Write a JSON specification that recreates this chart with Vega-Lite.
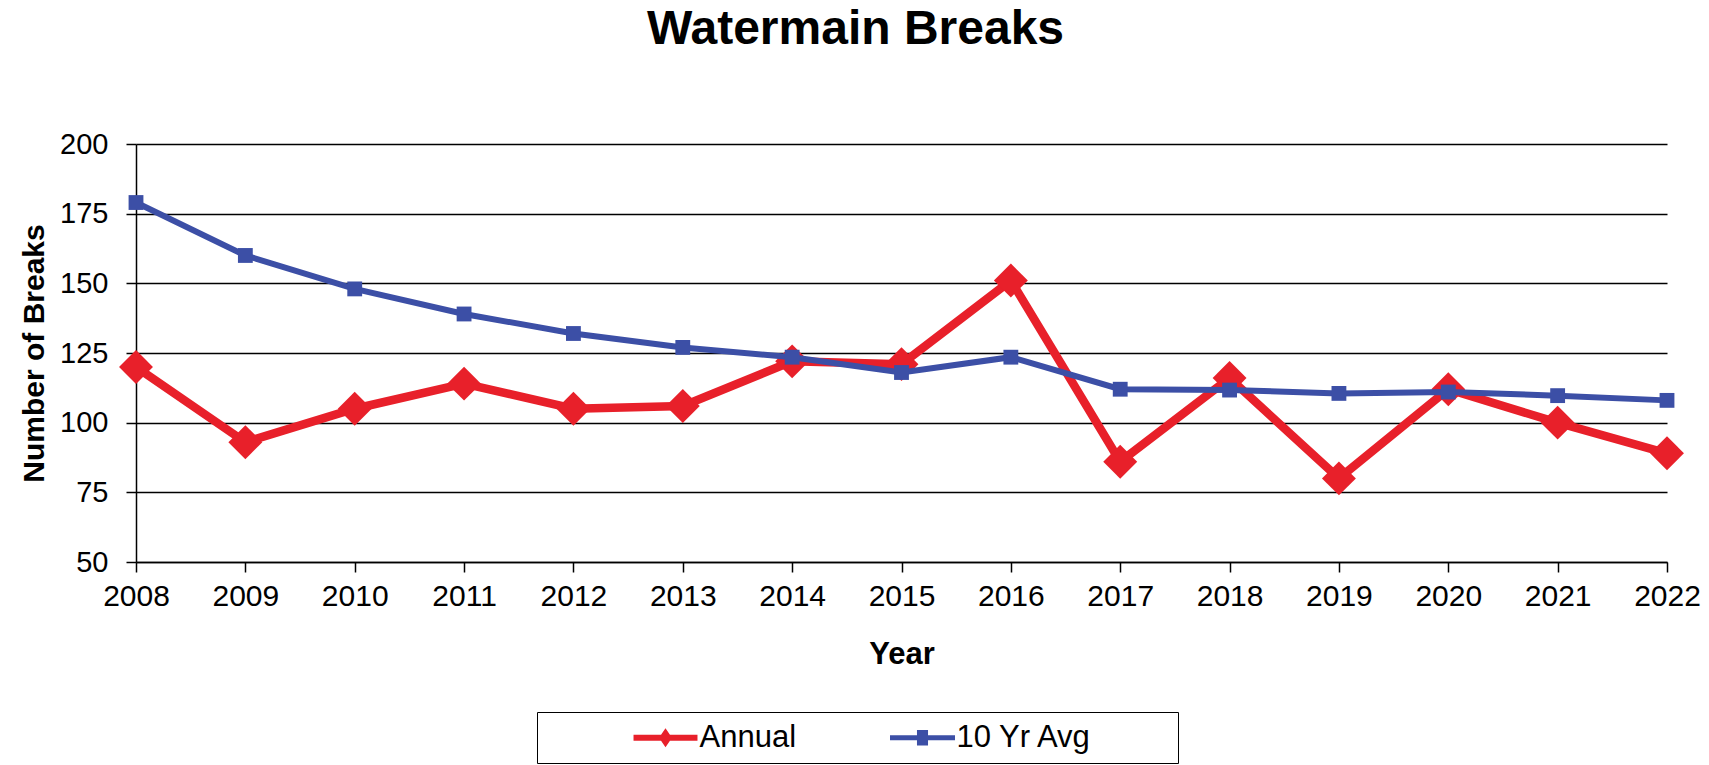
{
  "$schema": "https://vega.github.io/schema/vega-lite/v6.json",
  "width": 1531,
  "height": 418,
  "autosize": {"type": "none"},
  "padding": {"left": 136, "top": 144, "right": 42, "bottom": 203},
  "background": "white",
  "config": {
    "font": "Liberation Sans",
    "view": {"stroke": null}
  },
  "title": {
    "text": "Watermain Breaks",
    "fontSize": 48,
    "fontWeight": "bold",
    "font": "Liberation Sans",
    "color": "black",
    "anchor": "middle",
    "frame": "group",
    "dx": -46,
    "offset": 38,
    "baseline": "alphabetic"
  },
  "data": {
    "values": [
      {"Year": 2008, "Series": "Annual", "Breaks": 120},
      {"Year": 2009, "Series": "Annual", "Breaks": 93},
      {"Year": 2010, "Series": "Annual", "Breaks": 105},
      {"Year": 2011, "Series": "Annual", "Breaks": 114},
      {"Year": 2012, "Series": "Annual", "Breaks": 105},
      {"Year": 2013, "Series": "Annual", "Breaks": 106},
      {"Year": 2014, "Series": "Annual", "Breaks": 122},
      {"Year": 2015, "Series": "Annual", "Breaks": 121},
      {"Year": 2016, "Series": "Annual", "Breaks": 151},
      {"Year": 2017, "Series": "Annual", "Breaks": 86},
      {"Year": 2018, "Series": "Annual", "Breaks": 116},
      {"Year": 2019, "Series": "Annual", "Breaks": 80},
      {"Year": 2020, "Series": "Annual", "Breaks": 112},
      {"Year": 2021, "Series": "Annual", "Breaks": 100},
      {"Year": 2022, "Series": "Annual", "Breaks": 89},
      {"Year": 2008, "Series": "10 Yr Avg", "Breaks": 179},
      {"Year": 2009, "Series": "10 Yr Avg", "Breaks": 160},
      {"Year": 2010, "Series": "10 Yr Avg", "Breaks": 148},
      {"Year": 2011, "Series": "10 Yr Avg", "Breaks": 139},
      {"Year": 2012, "Series": "10 Yr Avg", "Breaks": 132},
      {"Year": 2013, "Series": "10 Yr Avg", "Breaks": 127},
      {"Year": 2014, "Series": "10 Yr Avg", "Breaks": 123.5},
      {"Year": 2015, "Series": "10 Yr Avg", "Breaks": 118},
      {"Year": 2016, "Series": "10 Yr Avg", "Breaks": 123.5},
      {"Year": 2017, "Series": "10 Yr Avg", "Breaks": 112},
      {"Year": 2018, "Series": "10 Yr Avg", "Breaks": 111.7},
      {"Year": 2019, "Series": "10 Yr Avg", "Breaks": 110.5},
      {"Year": 2020, "Series": "10 Yr Avg", "Breaks": 111},
      {"Year": 2021, "Series": "10 Yr Avg", "Breaks": 109.7},
      {"Year": 2022, "Series": "10 Yr Avg", "Breaks": 108}
    ]
  },
  "encoding": {
    "x": {
      "field": "Year",
      "type": "quantitative",
      "scale": {"domain": [2008, 2022], "nice": false, "zero": false},
      "axis": {
        "title": "Year",
        "values": [2008, 2009, 2010, 2011, 2012, 2013, 2014, 2015, 2016, 2017, 2018, 2019, 2020, 2021, 2022],
        "format": "d",
        "grid": false,
        "domainColor": "black",
        "domainWidth": 1.5,
        "tickColor": "black",
        "tickWidth": 1.5,
        "tickSize": 10,
        "labelFontSize": 30,
        "labelColor": "black",
        "labelPadding": 9,
        "labelFlush": false,
        "labelOverlap": false,
        "titleFontSize": 31,
        "titleFontWeight": "bold",
        "titleColor": "black",
        "titlePadding": 28
      }
    },
    "y": {
      "field": "Breaks",
      "type": "quantitative",
      "scale": {"domain": [50, 200], "nice": false, "zero": false},
      "axis": {
        "title": "Number of Breaks",
        "values": [50, 75, 100, 125, 150, 175, 200],
        "grid": true,
        "gridColor": "black",
        "gridWidth": 1.5,
        "gridOpacity": 1,
        "domainColor": "black",
        "domainWidth": 1.5,
        "tickColor": "black",
        "tickWidth": 1.5,
        "tickSize": 10,
        "labelFontSize": 29,
        "labelColor": "black",
        "labelPadding": 18,
        "labelFlush": false,
        "labelOverlap": false,
        "titleFontSize": 30,
        "titleFontWeight": "bold",
        "titleColor": "black",
        "titlePadding": 10
      }
    },
    "color": {
      "field": "Series",
      "type": "nominal",
      "scale": {"domain": ["Annual", "10 Yr Avg"], "range": ["#E8202A", "#3C4FA6"]},
      "legend": {
        "title": null,
        "orient": "none",
        "legendX": 401,
        "legendY": 568,
        "direction": "horizontal",
        "strokeColor": "black",
        "fillColor": "white",
        "padding": 10,
        "labelFontSize": 31,
        "labelColor": "black",
        "labelFont": "Liberation Sans",
        "symbolSize": 169,
        "symbolStrokeWidth": 0,
        "symbolOffset": 103,
        "labelOffset": 18.5,
        "columnPadding": 7,
        "encode": {
          "symbols": {
            "update": {
              "shape": {"signal": "datum.value === 'Annual' ? 'M-4.92,-0.46H-0.685L0,-1.46L0.685,-0.46H4.92V0.46H0.685L0,1.46L-0.685,0.46H-4.92Z' : 'M-5,-0.4H-0.85V-1.2H0.85V-0.4H5V0.4H0.85V1.2H-0.85V0.4H-5Z M37.7,0'"},
              "size": {"value": 169},
              "fill": {"scale": "color", "field": "value"},
              "stroke": {"value": "transparent"},
              "strokeWidth": {"value": 0},
              "opacity": {"value": 1}
            }
          }
        }
      }
    }
  },
  "layer": [
    {
      "transform": [{"filter": "datum.Series === 'Annual'"}],
      "mark": {"type": "line", "strokeWidth": 8.5}
    },
    {
      "transform": [{"filter": "datum.Series === 'Annual'"}],
      "mark": {"type": "point", "shape": "diamond", "size": 1150, "filled": true, "opacity": 1}
    },
    {
      "transform": [{"filter": "datum.Series === '10 Yr Avg'"}],
      "mark": {"type": "line", "strokeWidth": 6}
    },
    {
      "transform": [{"filter": "datum.Series === '10 Yr Avg'"}],
      "mark": {"type": "point", "shape": "square", "size": 220, "filled": true, "opacity": 1}
    }
  ]
}
